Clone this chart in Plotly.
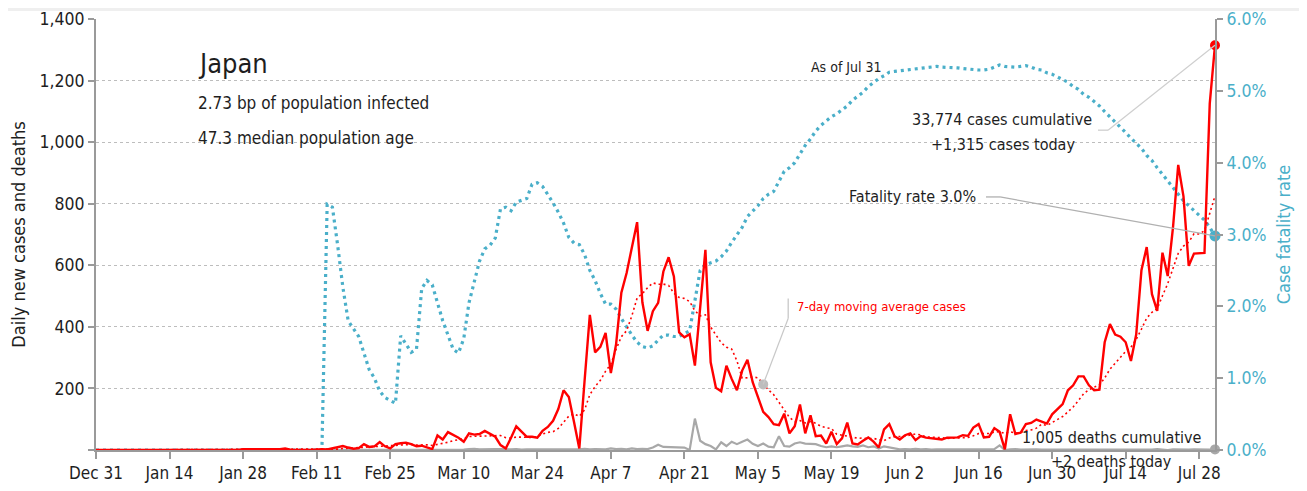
import pandas as pd
import plotly.graph_objects as go

# --- data, one value per day Dec 31 .. Jul 31
start_date = "2019-12-31"
end_date = "2020-07-31"

daily_cases = (
    [0] * 16 + [1] + [0] * 7
    + [1, 1, 2, 0, 3, 4, 3, 3, 3, 2, 1, 3, 5, 1, 0, 1, 0, 0]
    + [2, 3, 2, 5, 8, 13, 8, 4, 6, 19, 10, 12, 26, 12]
    + [5, 19, 22, 24, 19, 12, 14, 8, 3, 47, 34, 58, 48, 40]
    + [27, 54, 50, 52, 62, 52, 43, 16, 5, 40, 77, 60, 43, 43]
    + [40, 62, 75, 95, 133, 194, 172, 90, 5, 225, 439, 317, 335, 380]
    + [250, 344, 511, 575, 656, 740, 480, 387, 451, 478, 580, 626, 564, 382]
    + [366, 376, 274, 462, 650, 285, 202, 191, 274, 231, 194, 258, 293, 220]
    + [172, 124, 107, 84, 81, 118, 54, 77, 148, 54, 113, 45, 47, 21]
    + [59, 19, 38, 89, 21, 18, 30, 41, 27, 8, 67, 84, 45, 34]
    + [48, 54, 32, 45, 40, 38, 35, 34, 40, 41, 41, 48, 46, 73]
    + [84, 41, 43, 71, 59, 2, 116, 52, 56, 84, 88, 99, 92, 86]
    + [116, 131, 149, 194, 210, 239, 239, 210, 194, 196, 350, 409, 375, 368]
    + [350, 289, 375, 584, 659, 506, 452, 641, 565, 722, 926, 824, 598, 638]
    + [638, 640, 1125, 1315]
)

daily_deaths = (
    [0] * 44 + [1] + [0] * 13
    + [2, 0, 0, 1, 2]
    + [0, 1, 0, 0, 1, 0, 0]
    + [1, 3, 4, 2, 3, 4, 3, 3]
    + [2, 2, 3, 1, 2, 2, 2]
    + [3, 1, 2, 3, 2, 1, 3, 2, 4, 2, 3, 2, 2]
    + [5, 3, 4, 2, 5, 3, 4, 3]
    + [8, 17, 10, 9, 10, 9, 8]
    + [0, 102, 30]
    + [19, 13, 2, 25, 13, 27, 19, 27, 34, 20, 13, 21, 11, 9, 45]
    + [13, 11, 21, 25, 21, 19, 19, 13, 9]
    + [12, 9, 12, 15, 12, 10, 15, 9, 12, 5, 12, 9, 4, 2]
    + [3, 2, 4, 2, 3, 1, 2, 2, 1, 3, 2, 1, 2, 3]
    + [2, 1, 2, 3, 15, 0, 2, 3, 1, 2, 1, 2, 1, 1]
    + [1, 1, 2, 1, 0, 1, 1, 2, 1, 1, 2, 1, 0, 1]
    + [1, 1, 2, 1, 0, 1, 3, 1, 0, 2, 1, 0, 1, 2]
    + [1, 0, 1, 2]
)

# case fatality rate, percent
fatality_rate = (
    [0] * 44
    + [3.42, 3.38, 2.85, 2.26, 1.80, 1.68, 1.58, 1.35, 1.12, 1.00, 0.82, 0.73, 0.69, 0.65]
    + [1.59, 1.47, 1.36, 1.40, 2.25, 2.36, 2.30, 2.05, 1.80, 1.60, 1.40, 1.35]
    + [1.55, 2.05, 2.35, 2.63, 2.80, 2.85, 2.95, 3.36, 3.38, 3.33, 3.45, 3.48, 3.50, 3.70]
    + [3.72, 3.67, 3.56, 3.44, 3.31, 3.16, 2.96, 2.88, 2.86, 2.72, 2.50, 2.36, 2.18, 2.03]
    + [2.03, 1.96, 1.83, 1.71, 1.60, 1.50, 1.44, 1.42, 1.45, 1.53, 1.60, 1.60, 1.58, 1.58]
    + [1.62, 1.66, 2.08, 2.50, 2.58, 2.60, 2.63, 2.69, 2.77, 2.89, 2.99, 3.10, 3.25, 3.33]
    + [3.40, 3.50, 3.56, 3.60, 3.74, 3.88, 3.93, 4.00, 4.12, 4.24, 4.33, 4.44, 4.52, 4.58]
    + [4.64, 4.68, 4.73, 4.79, 4.87, 4.93, 4.98, 5.06, 5.12, 5.17, 5.21, 5.26, 5.27, 5.28]
    + [5.29, 5.30, 5.31, 5.32, 5.33, 5.34, 5.34, 5.33, 5.33, 5.32, 5.32, 5.31, 5.30, 5.29]
    + [5.29, 5.29, 5.30, 5.33, 5.36, 5.34, 5.33, 5.33, 5.34, 5.35, 5.33, 5.30, 5.29, 5.25]
    + [5.23, 5.19, 5.15, 5.12, 5.06, 5.02, 4.95, 4.91, 4.85, 4.79, 4.71, 4.64, 4.56, 4.50]
    + [4.42, 4.34, 4.27, 4.20, 4.10, 4.03, 3.93, 3.84, 3.74, 3.65, 3.57, 3.47, 3.40, 3.33]
    + [3.26, 3.20, 3.10, 2.98]
)

case_ticks = [0, 200, 400, 600, 800, 1000, 1200, 1400]
case_tick_labels = ["", "200", "400", "600", "800", "1,000", "1,200", "1,400"]
rate_ticks = [0, 1, 2, 3, 4, 5, 6]
rate_tick_labels = ["0.0%", "1.0%", "2.0%", "3.0%", "4.0%", "5.0%", "6.0%"]

country = "Japan"
infected_note = "2.73 bp of population infected"
age_note = "47.3 median population age"
as_of = "As of Jul 31"
cum_cases = "33,774 cases cumulative"
today_cases = "+1,315 cases today"
cfr_note = "Fatality rate 3.0%"
cum_deaths = "1,005 deaths cumulative"
today_deaths = "+2 deaths today"
ma_label = "7-day moving average cases"

dates = pd.date_range(start_date, end_date, freq="D")
# the dotted red line is the chart's own 7-day trailing mean of the daily cases
cases_ma = pd.Series(daily_cases).rolling(7, min_periods=1).mean()

RED = "#ff0000"
TEAL = "#4aafc9"
GREY = "#a8a8a8"
AXIS = "#9a9a9a"
TXT = "#1e1e1e"
FONT = "DejaVu Sans Condensed, Liberation Sans Narrow, Roboto, sans-serif"

fig = go.Figure()

# fatality rate on the primary (right) axis so the case lines sit on top of it
fig.add_trace(go.Scatter(x=dates, y=fatality_rate, mode="lines", yaxis="y",
                         line=dict(color=TEAL, width=3.2, dash="3px,4px"),
                         hoverinfo="skip"))
fig.add_trace(go.Scatter(x=dates, y=daily_deaths, mode="lines", yaxis="y2",
                         line=dict(color=GREY, width=2.2), hoverinfo="skip"))
fig.add_trace(go.Scatter(x=dates, y=cases_ma, mode="lines", yaxis="y2",
                         line=dict(color=RED, width=1.6, dash="2px,3px"),
                         hoverinfo="skip"))
fig.add_trace(go.Scatter(x=dates, y=daily_cases, mode="lines", yaxis="y2",
                         line=dict(color=RED, width=2.4), hoverinfo="skip"))

# end-of-series dots
last = dates[-1]
ma_pick = 127  # where the moving-average label points
fig.add_trace(go.Scatter(x=[last], y=[fatality_rate[-1]], mode="markers", yaxis="y",
                         marker=dict(color=TEAL, size=11), cliponaxis=False,
                         hoverinfo="skip"))
fig.add_trace(go.Scatter(x=[last], y=[daily_deaths[-1]], mode="markers", yaxis="y2",
                         marker=dict(color=GREY, size=10), cliponaxis=False,
                         hoverinfo="skip"))
fig.add_trace(go.Scatter(x=[last], y=[daily_cases[-1]], mode="markers", yaxis="y2",
                         marker=dict(color=RED, size=10), cliponaxis=False,
                         hoverinfo="skip"))
fig.add_trace(go.Scatter(x=[dates[ma_pick]], y=[cases_ma[ma_pick]], mode="markers",
                         yaxis="y2", marker=dict(color="#bdbdbd", size=10),
                         hoverinfo="skip"))


def leader(xa, ya, yref, pts, color):
    # pixel-offset polyline anchored on a data point
    out = []
    for (x0, y0), (x1, y1) in zip(pts[:-1], pts[1:]):
        out.append(dict(type="line", xref="x", yref=yref,
                        xsizemode="pixel", ysizemode="pixel",
                        xanchor=xa, yanchor=ya,
                        x0=x0, y0=y0, x1=x1, y1=y1,
                        line=dict(color=color, width=1.3)))
    return out


shapes = []
shapes += leader(last, daily_cases[-1], "y2", [(0, 0), (-107, -85), (-117, -85)], "#cfcfcf")
shapes += leader(last, fatality_rate[-1], "y", [(0, 0), (-215, 39), (-229, 39)], "#b0b0b0")
shapes += leader(dates[ma_pick], cases_ma[ma_pick], "y2",
                 [(0, 0), (25, 66), (25, 86)], "#c8c8c8")
# thin grey strip along the top of the page
shapes.append(dict(type="rect", xref="paper", yref="paper", x0=-0.1, x1=1.1,
                   y0=1 + 8 / 431, y1=1 + 11 / 431, fillcolor="#efefef",
                   line=dict(width=0), layer="below"))


def note(text, size, **kw):
    d = dict(text=text, showarrow=False, font=dict(family=FONT, size=size, color=TXT))
    d.update(kw)
    return d


annotations = [
    note(country, 27, xref="paper", yref="paper", x=0.0894, y=0.896,
         xanchor="left", yanchor="middle"),
    note(infected_note, 17, xref="paper", yref="paper", x=0.0894, y=0.806,
         xanchor="left", yanchor="middle"),
    note(age_note, 17, xref="paper", yref="paper", x=0.0894, y=0.725,
         xanchor="left", yanchor="middle"),
    note(as_of, 14, xref="paper", yref="paper", x=0.7042, y=0.889,
         xanchor="right", yanchor="middle"),
    note(cum_cases, 16, xref="x", yref="y2", x=last, y=daily_cases[-1],
         xshift=-213, yshift=-74, xanchor="center", yanchor="middle"),
    note(today_cases, 16, xref="x", yref="y2", x=last, y=daily_cases[-1],
         xshift=-212, yshift=-99, xanchor="center", yanchor="middle"),
    note(cfr_note, 16, xref="x", yref="y", x=last, y=fatality_rate[-1],
         xshift=-237, yshift=39, xanchor="right", yanchor="middle"),
    note(cum_deaths, 16, xref="x", yref="y2", x=last, y=daily_deaths[-1],
         xshift=-103, yshift=12, xanchor="center", yanchor="middle"),
    note(today_deaths, 16, xref="x", yref="y2", x=last, y=daily_deaths[-1],
         xshift=-104, yshift=-12, xanchor="center", yanchor="middle"),
    dict(text=ma_label, showarrow=False, xref="x", yref="y2",
         x=dates[ma_pick], y=cases_ma[ma_pick], xshift=32, yshift=78,
         xanchor="left", yanchor="middle",
         font=dict(family=FONT, size=13, color=RED)),
]

# the page body adds 8px on the top/left, so the margins are trimmed by that much
fig.update_layout(
    width=1307, height=491,
    margin=dict(l=88, r=100, t=11, b=49),
    paper_bgcolor="white", plot_bgcolor="white",
    showlegend=False,
    font=dict(family=FONT, color=TXT),
    shapes=shapes,
    annotations=annotations,
    xaxis=dict(type="date", range=[start_date, end_date], automargin=False,
               tick0=start_date, dtick=14 * 86400000, tickformat="%b %-d",
               ticks="outside", ticklen=7, tickcolor=AXIS, tickwidth=1.5,
               showline=True, linecolor=AXIS, linewidth=2,
               showgrid=False, zeroline=False, ticklabeloverflow="allow",
               tickfont=dict(size=17, color=TXT)),
    yaxis=dict(side="right", range=[0, 6], tickvals=rate_ticks, ticktext=rate_tick_labels,
               automargin=False, ticklabeloverflow="allow",
               ticks="outside", ticklen=6, tickcolor=AXIS, tickwidth=1.5,
               showline=True, linecolor=AXIS, linewidth=2,
               showgrid=False, zeroline=False,
               tickfont=dict(size=17.5, color=TEAL),
               title=dict(text="Case fatality rate", font=dict(size=18, color=TEAL),
                          standoff=12)),
    yaxis2=dict(side="left", overlaying="y", range=[0, 1400], automargin=False,
                tickvals=case_ticks, ticktext=case_tick_labels, ticklabeloverflow="allow",
                ticks="outside", ticklen=6, tickcolor=AXIS, tickwidth=1.5,
                showline=True, linecolor=AXIS, linewidth=2,
                showgrid=True, gridcolor="#bdbdbd", griddash="dot", gridwidth=1,
                zeroline=False,
                tickfont=dict(size=17.5, color=TXT),
                title=dict(text="Daily new cases and deaths", font=dict(size=18, color=TXT),
                           standoff=10)),
)

fig.write_html("out.html")
